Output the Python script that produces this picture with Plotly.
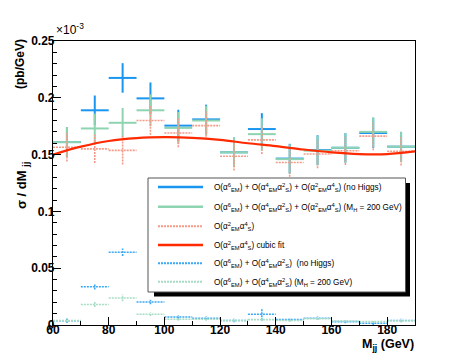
import plotly.graph_objects as go

# ---------------- data (cross-section values in units of 1e-3 pb/GeV) ----------------
bin_centers = [65, 75, 85, 95, 105, 115, 125, 135, 145, 155, 165, 175, 185]
bin_half_width = 5

full_noh = [0.161, 0.189, 0.2175, 0.1995, 0.1755, 0.181, 0.152, 0.1725, 0.1465, 0.154, 0.156, 0.169, 0.157]
full_noh_err = [0.013, 0.013, 0.013, 0.014, 0.014, 0.013, 0.013, 0.014, 0.013, 0.013, 0.013, 0.013, 0.013]

full_mh200 = [0.161, 0.173, 0.178, 0.189, 0.1735, 0.180, 0.152, 0.168, 0.146, 0.1535, 0.156, 0.170, 0.157]
full_mh200_err = [0.013, 0.013, 0.013, 0.014, 0.014, 0.013, 0.013, 0.014, 0.013, 0.013, 0.013, 0.013, 0.013]

qcd = [0.1565, 0.155, 0.1537, 0.180, 0.169, 0.1755, 0.1485, 0.163, 0.143, 0.1505, 0.1534, 0.1663, 0.153]
qcd_err = [0.0125, 0.0125, 0.0125, 0.0125, 0.0125, 0.0125, 0.0125, 0.0125, 0.0125, 0.0125, 0.0125, 0.0125, 0.0125]

ew_noh = [0.0038, 0.0337, 0.064, 0.0202, 0.007, 0.006, 0.004, 0.0094, 0.0047, 0.0059, 0.003, 0.0015, 0.004]
ew_noh_err = [0.002, 0.0025, 0.0033, 0.002, 0.0015, 0.0015, 0.0015, 0.0053, 0.0015, 0.0015, 0.0015, 0.0015, 0.0015]

ew_mh200 = [0.004, 0.018, 0.0238, 0.0094, 0.005, 0.005, 0.004, 0.0047, 0.004, 0.0055, 0.0035, 0.003, 0.0038]
ew_mh200_err = [0.0015, 0.0022, 0.003, 0.0015, 0.0012, 0.0012, 0.0012, 0.0015, 0.0012, 0.0012, 0.0012, 0.0012, 0.0012]

fit_x = [60, 70, 80, 90, 100, 110, 120, 130, 140, 150, 160, 170, 180, 190]
fit_y = [0.150, 0.157, 0.162, 0.1645, 0.1653, 0.1648, 0.163, 0.160, 0.1575, 0.1545, 0.152, 0.1505, 0.1505, 0.1528]

x_ticks = [60, 80, 100, 120, 140, 160, 180]
y_ticks = [0, 0.05, 0.1, 0.15, 0.2, 0.25]

legend_labels = [
    "O(α<sup>6</sup><sub>EM</sub>) + O(α<sup>4</sup><sub>EM</sub>α<sup>2</sup><sub>S</sub>) + O(α<sup>2</sup><sub>EM</sub>α<sup>4</sup><sub>S</sub>) (no Higgs)",
    "O(α<sup>6</sup><sub>EM</sub>) + O(α<sup>4</sup><sub>EM</sub>α<sup>2</sup><sub>S</sub>) + O(α<sup>2</sup><sub>EM</sub>α<sup>4</sup><sub>S</sub>) (M<sub>H</sub> = 200 GeV)",
    "O(α<sup>2</sup><sub>EM</sub>α<sup>4</sup><sub>S</sub>)",
    "O(α<sup>2</sup><sub>EM</sub>α<sup>4</sup><sub>S</sub>) cubic fit",
    "O(α<sup>6</sup><sub>EM</sub>) + O(α<sup>4</sup><sub>EM</sub>α<sup>2</sup><sub>S</sub>)  (no Higgs)",
    "O(α<sup>6</sup><sub>EM</sub>) + O(α<sup>4</sup><sub>EM</sub>α<sup>2</sup><sub>S</sub>) (M<sub>H</sub> = 200 GeV)",
]

# ---------------- styles ----------------
C_BLUE = "#1a96f0"
C_GREEN = "#8fd4b0"
C_REDDOT = "#f59a88"
C_FIT = "#ff2a00"
C_BLUEDOT = "#3aa8f5"
C_GREENDOT = "#a8dcc4"
DOT = "2px,1px"

FONT = "Liberation Sans, Arial, Helvetica, sans-serif"


def crosses(xc, y, ey, hw):
    xs, ys = [], []
    for x, v, e in zip(xc, y, ey):
        xs += [x - hw, x + hw, None, x, x, None]
        ys += [v, v, None, v - e, v + e, None]
    return xs, ys


fig = go.Figure()

series = [
    (full_noh, full_noh_err, C_BLUE, 2, "solid"),
    (full_mh200, full_mh200_err, C_GREEN, 2, "solid"),
    (qcd, qcd_err, C_REDDOT, 1.6, DOT),
    (ew_noh, ew_noh_err, C_BLUEDOT, 1.6, DOT),
    (ew_mh200, ew_mh200_err, C_GREENDOT, 1.6, DOT),
]
for vals, errs, col, w, dash in series:
    xs, ys = crosses(bin_centers, vals, errs, bin_half_width)
    fig.add_trace(go.Scatter(x=xs, y=ys, mode="lines",
                             line=dict(color=col, width=w, dash=dash),
                             showlegend=False, hoverinfo="skip"))

fig.add_trace(go.Scatter(x=fit_x, y=fit_y, mode="lines",
                         line=dict(color=C_FIT, width=2.2, shape="spline"),
                         showlegend=False, hoverinfo="skip"))

# ---------------- layout ----------------
L, R, T, B = 45, 407, 33, 317
W, H = 452, 354
pw, ph = R - L, B - T


def px(xp):
    return (xp - L) / pw


def py(yp):
    return (B - yp) / ph


axis_common = dict(showline=True, linecolor="black", linewidth=1.2, mirror=True,
                   ticks="inside", tickcolor="black", showgrid=False, zeroline=False,
                   tickfont=dict(family=FONT, size=12, color="black", weight="bold"))

fig.update_layout(
    width=W, height=H,
    margin=dict(l=L, r=W - R, t=T, b=H - B),
    paper_bgcolor="white", plot_bgcolor="white",
    showlegend=False,
    xaxis=dict(range=[60, 190], tickvals=x_ticks, ticklen=8, ticklabelstandoff=-7,
               minor=dict(dtick=10, tick0=60, ticklen=4, ticks="inside", tickcolor="black"),
               **axis_common),
    yaxis=dict(range=[0, 0.25], tickvals=y_ticks, ticktext=[("%g" % v) for v in y_ticks],
               ticklen=8, ticklabelstandoff=-5,
               minor=dict(dtick=0.01, tick0=0, ticklen=4, ticks="inside", tickcolor="black"),
               **axis_common),
)

shapes = []
# legend shadow and box
shapes.append(dict(type="rect", xref="paper", yref="paper", layer="above",
                   x0=px(146), x1=px(402), y0=py(288.5), y1=py(175),
                   fillcolor="black", line=dict(width=0)))
shapes.append(dict(type="rect", xref="paper", yref="paper", layer="above",
                   x0=px(140), x1=px(397.5), y0=py(284), y1=py(170),
                   fillcolor="white", line=dict(color="#555555", width=1)))
row_y = [179, 198.7, 218.3, 237, 255.3, 273.7]
row_styles = [(C_BLUE, 2.5, "solid"), (C_GREEN, 2.5, "solid"), (C_REDDOT, 2, DOT),
              (C_FIT, 2.5, "solid"), (C_BLUEDOT, 2, DOT), (C_GREENDOT, 2, DOT)]
annotations = []
for yy, (col, w, dash), lab in zip(row_y, row_styles, legend_labels):
    shapes.append(dict(type="line", xref="paper", yref="paper", layer="above",
                       x0=px(150), x1=px(195), y0=py(yy), y1=py(yy),
                       line=dict(color=col, width=w, dash=dash)))
    annotations.append(dict(xref="paper", yref="paper", x=px(204), y=py(yy + 0.5),
                            xanchor="left", yanchor="middle", showarrow=False,
                            text=lab, font=dict(family=FONT, size=8.2, color="black")))

# axis titles and exponent
annotations.append(dict(xref="paper", yref="paper", x=px(408), y=py(337),
                        xanchor="right", yanchor="middle", showarrow=False,
                        text="M<sub>jj</sub> (GeV)",
                        font=dict(family=FONT, size=12.5, color="black", weight="bold")))
annotations.append(dict(xref="paper", yref="paper", x=px(12), y=py(56),
                        xanchor="center", yanchor="middle", showarrow=False, textangle=-90,
                        text="(pb/GeV)",
                        font=dict(family=FONT, size=12, color="black", weight="bold")))
annotations.append(dict(xref="paper", yref="paper", x=px(14), y=py(178),
                        xanchor="center", yanchor="middle", showarrow=False, textangle=-90,
                        text="σ / dM <sub>jj</sub>",
                        font=dict(family=FONT, size=13, color="black", weight="bold")))
annotations.append(dict(xref="paper", yref="paper", x=px(46), y=py(31),
                        xanchor="left", yanchor="bottom", showarrow=False,
                        text="×10<sup>-3</sup>",
                        font=dict(family=FONT, size=12, color="black")))

fig.update_layout(shapes=shapes, annotations=annotations)

fig.write_html("out.html")
